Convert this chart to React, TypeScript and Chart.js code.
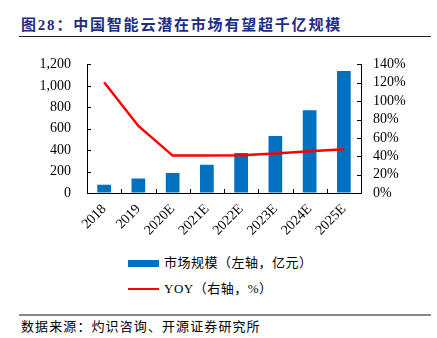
import React, { useEffect, useRef } from "react";
import { Chart, registerables } from "chart.js";

Chart.register(...registerables);

const categories = ["2018", "2019", "2020E", "2021E", "2022E", "2023E", "2024E", "2025E"];
const marketSize = [76, 136, 186, 264, 373, 533, 772, 1139];
const yoyPct = [120.5, 73, 40.7, 40.8, 41, 43, 45.5, 47.5];
const leftAxis = { min: 0, max: 1200, step: 200 };
const rightAxis = { min: 0, max: 140, step: 20 };

const title = "图28：中国智能云潜在市场有望超千亿规模";
const legendBar = "市场规模（左轴，亿元）";
const legendLine = "YOY（右轴，%）";
const source = "数据来源：灼识咨询、开源证券研究所";

const SERIF = '"Liberation Serif", "Noto Sans CJK SC", serif';

const inwardTicks = {
  id: "inwardTicks",
  afterDraw(chart: any) {
    const { ctx, chartArea, scales } = chart;
    const x = scales.x, y = scales.y, y1 = scales.y1;
    ctx.save();
    ctx.strokeStyle = "#000";
    ctx.lineWidth = 1;
    ctx.beginPath();
    y.ticks.forEach((t: any) => {
      const py = Math.round(y.getPixelForValue(t.value)) + 0.5;
      ctx.moveTo(chartArea.left, py);
      ctx.lineTo(chartArea.left + 4, py);
    });
    y1.ticks.forEach((t: any) => {
      const py = Math.round(y1.getPixelForValue(t.value)) + 0.5;
      ctx.moveTo(chartArea.right - 4, py);
      ctx.lineTo(chartArea.right, py);
    });
    for (let i = 1; i < categories.length; i++) {
      const px = Math.round((x.getPixelForValue(i - 1) + x.getPixelForValue(i)) / 2) + 0.5;
      ctx.moveTo(px, chartArea.bottom);
      ctx.lineTo(px, chartArea.bottom - 4);
    }
    ctx.stroke();
    ctx.restore();
  },
};

export default function App() {
  const ref = useRef<HTMLCanvasElement>(null);
  useEffect(() => {
    if (!ref.current) return;
    const tickFont = { family: SERIF, size: 14 };
    const chart = new Chart(ref.current, {
      type: "bar",
      data: {
        labels: categories,
        datasets: [
          {
            type: "line",
            label: legendLine,
            data: yoyPct,
            yAxisID: "y1",
            borderColor: "#FF0000",
            backgroundColor: "#FF0000",
            borderWidth: 2.5,
            pointRadius: 0,
            tension: 0,
            order: 0,
          } as any,
          {
            type: "bar",
            label: legendBar,
            data: marketSize,
            yAxisID: "y",
            backgroundColor: "#0070C0",
            barPercentage: 0.4,
            categoryPercentage: 1,
            order: 1,
          },
        ],
      },
      plugins: [inwardTicks],
      options: {
        responsive: false,
        animation: false,
        layout: { padding: { top: 21, left: 0, right: 0, bottom: 0 } },
        plugins: { legend: { display: false }, tooltip: { enabled: false } },
        scales: {
          x: {
            offset: true,
            grid: { display: true, drawOnChartArea: false, drawTicks: false },
            border: { display: true, color: "#000", width: 1 },
            ticks: { color: "#000", font: tickFont, minRotation: 45, maxRotation: 45, padding: 8, autoSkip: false },
            afterFit: (s: any) => { s.height = 47; },
          },
          y: {
            position: "left",
            min: leftAxis.min,
            max: leftAxis.max,
            grid: { display: true, drawOnChartArea: false, drawTicks: false },
            border: { display: true, color: "#000", width: 1 },
            ticks: {
              stepSize: leftAxis.step,
              autoSkip: false,
              color: "#000",
              font: tickFont,
              padding: 16,
              callback: (v: any) => Number(v).toLocaleString("en-US"),
            },
            afterFit: (s: any) => { s.width = 87; },
          },
          y1: {
            position: "right",
            min: rightAxis.min,
            max: rightAxis.max,
            grid: { display: true, drawOnChartArea: false, drawTicks: false },
            border: { display: true, color: "#000", width: 1 },
            ticks: {
              stepSize: rightAxis.step,
              autoSkip: false,
              color: "#000",
              font: tickFont,
              padding: 12,
              callback: (v: any) => `${v}%`,
            },
            afterFit: (s: any) => { s.width = 76; },
          },
        },
      },
    });
    return () => chart.destroy();
  }, []);

  return (
    <div style={{ position: "fixed", left: 0, top: 0, width: 437, height: 338, background: "#fff", overflow: "hidden" }}>
      <div
        style={{
          position: "absolute", left: 21, top: 14, fontFamily: SERIF, fontWeight: "bold",
          fontSize: 15, letterSpacing: "1.8px", color: "#1F2D86", whiteSpace: "nowrap", lineHeight: "22px",
        }}
      >
        {title}
      </div>
      <div style={{ position: "absolute", left: 19, top: 36, width: 412, height: 1, background: "#222" }} />
      <canvas ref={ref} width={437} height={200} style={{ position: "absolute", left: 0, top: 40, width: 437, height: 200 }} />
      <div style={{ position: "absolute", left: 128, top: 260, width: 31, height: 7, background: "#0070C0" }} />
      <div style={{ position: "absolute", left: 164, top: 254, fontFamily: SERIF, fontSize: 13, letterSpacing: "0.5px", lineHeight: "18px", whiteSpace: "nowrap", color: "#000" }}>
        {legendBar}
      </div>
      <div style={{ position: "absolute", left: 128, top: 288, width: 31, height: 2, background: "#FF0000" }} />
      <div style={{ position: "absolute", left: 164, top: 280, fontFamily: SERIF, fontSize: 13, letterSpacing: "0.5px", lineHeight: "18px", whiteSpace: "nowrap", color: "#000" }}>
        {legendLine}
      </div>
      <div style={{ position: "absolute", left: 19, top: 314, width: 412, height: 2, background: "#888" }} />
      <div style={{ position: "absolute", left: 21, top: 318, fontFamily: SERIF, fontSize: 13, letterSpacing: "1.1px", lineHeight: "18px", whiteSpace: "nowrap", color: "#000" }}>
        {source}
      </div>
    </div>
  );
}
